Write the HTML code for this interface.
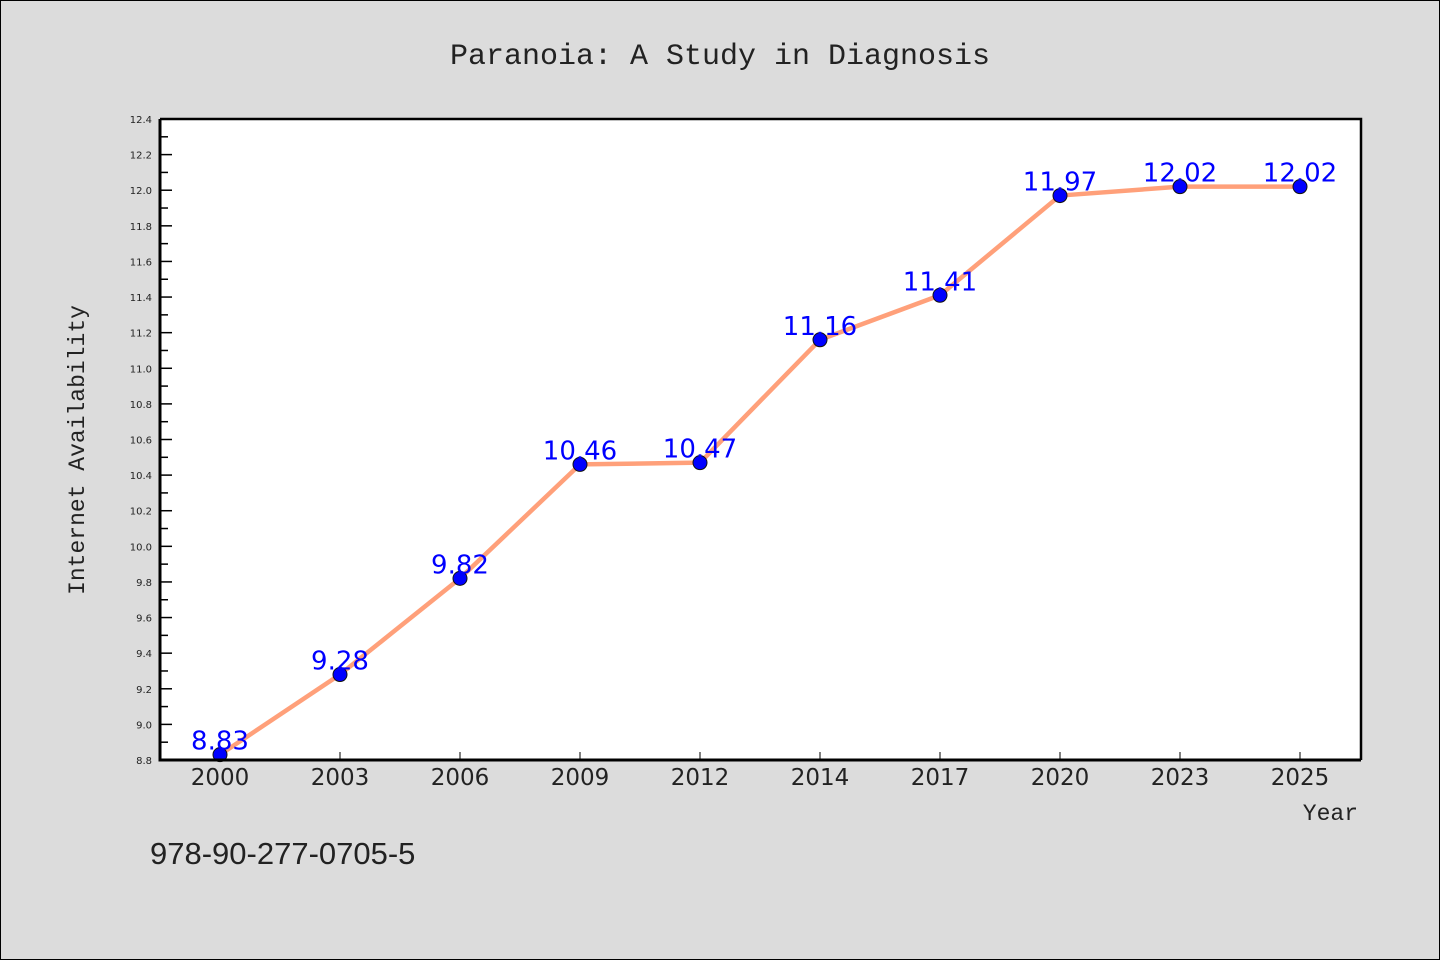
<!DOCTYPE html>
<html><head><meta charset="utf-8"><style>
body{margin:0;background:#dcdcdc;}
svg{display:block}
</style></head><body>
<svg width="1440" height="960" xmlns="http://www.w3.org/2000/svg">
<rect x="0.5" y="0.5" width="1439" height="959" fill="#dcdcdc" stroke="#000" stroke-width="1"/>
<text x="720" y="64" text-anchor="middle" font-family="Liberation Mono, monospace" font-size="30" fill="#222">Paranoia: A Study in Diagnosis</text>
<rect x="160" y="119" width="1201" height="641" fill="#fff"/>
<g id="yaxis"></g>
<g id="xaxis"></g>
<g id="series"></g>
<path d="M160,119 H1361 V760" fill="none" stroke="#000" stroke-width="2.5"/>
<path d="M160,119 V760 H1361" fill="none" stroke="#000" stroke-width="3"/>
<text transform="translate(84,450) rotate(-90)" text-anchor="middle" font-family="Liberation Mono, monospace" font-size="23" fill="#222">Internet Availability</text>
<text x="1358" y="820" text-anchor="end" font-family="Liberation Mono, monospace" font-size="23" fill="#222">Year</text>
<text x="150" y="864" font-family="Liberation Sans, sans-serif" font-size="31" fill="#222">978-90-277-0705-5</text>
</svg>
<script>
const categories=["2000","2003","2006","2009","2012","2014","2017","2020","2023","2025"];
const values=[8.83,9.28,9.82,10.46,10.47,11.16,11.41,11.97,12.02,12.02];
const yTicks=[8.8,9.0,9.2,9.4,9.6,9.8,10.0,10.2,10.4,10.6,10.8,11.0,11.2,11.4,11.6,11.8,12.0,12.2,12.4];
const NS="http://www.w3.org/2000/svg";
const x0=160,x1=1360,yTop=119,yBot=760,yMin=8.8,yMax=12.4;
const band=(x1-x0)/categories.length;
const xs=i=>x0+band*(i+0.5);
const ys=v=>yBot-(v-yMin)/(yMax-yMin)*(yBot-yTop);
function mk(t,a,p){const e=document.createElementNS(NS,t);for(const k in a)e.setAttribute(k,a[k]);p.appendChild(e);return e;}
const ya=document.getElementById('yaxis'),xa=document.getElementById('xaxis'),sg=document.getElementById('series');
yTicks.forEach((v,i)=>{
 const y=ys(v);
 const t=mk('line',{x1:160,x2:172,y1:y,y2:y,stroke:'#000','stroke-width':1.5},ya);
 
 
 const l=mk('text',{x:152,y:y+4,'text-anchor':'end','font-family':'DejaVu Sans, sans-serif','font-size':10,fill:'#222'},ya);
 l.textContent=v.toFixed(1);
 
 
 if(i<yTicks.length-1){const m=ys(v+0.1);
  const mt=mk('line',{x1:160,x2:168,y1:m,y2:m,stroke:'#000','stroke-width':1.5},ya);
  
  }
});
categories.forEach((c,i)=>{
 const x=xs(i);
 const t=mk('line',{x1:x,x2:x,y1:760,y2:752,stroke:'#000','stroke-width':1},xa);
 
 
 const l=mk('text',{x:x,y:785,'text-anchor':'middle','font-family':'DejaVu Sans, sans-serif','font-size':23,fill:'#222'},xa);
 l.textContent=c;
 
 
});
const line=mk('polyline',{points:values.map((v,i)=>xs(i)+','+ys(v)).join(' '),fill:'none',stroke:'#ffa07a','stroke-width':4.5,'stroke-linejoin':'round'},sg);


values.forEach((v,i)=>{
 const c=mk('circle',{cx:xs(i),cy:ys(v),r:7,fill:'#0000ff',stroke:'#111','stroke-width':1},sg);
 
 
 const l=mk('text',{x:xs(i),y:ys(v)-5,'text-anchor':'middle','font-family':'DejaVu Sans, sans-serif','font-size':26,fill:'#0000ff'},sg);
 l.textContent=v.toFixed(2);
 
 
});
</script>
</body></html>
